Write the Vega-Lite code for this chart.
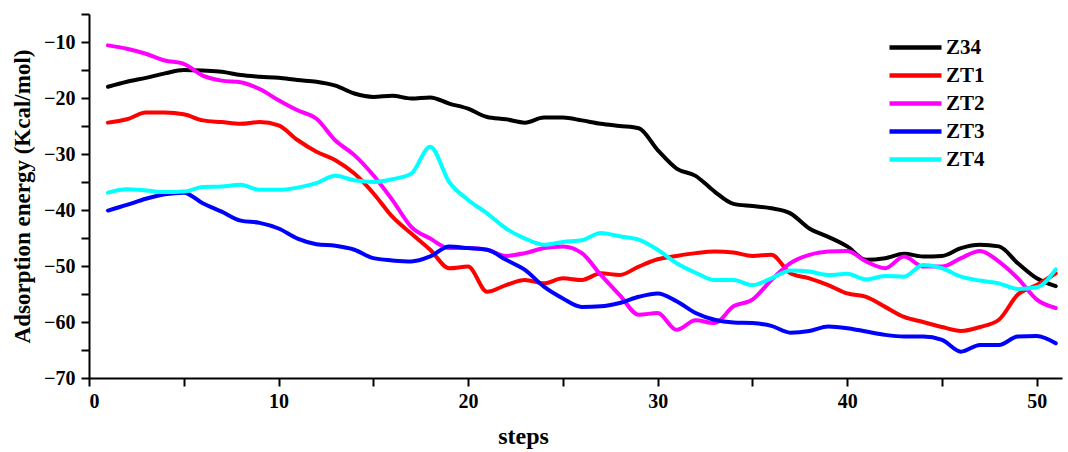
{
  "$schema": "https://vega.github.io/schema/vega-lite/v6.json",
  "width": 973,
  "height": 364,
  "autosize": "none",
  "padding": {"left": 89, "top": 14, "right": 6, "bottom": 74},
  "background": "white",
  "config": {
    "view": {"stroke": null},
    "font": "Liberation Serif",
    "axis": {"grid": false, "domainColor": "black", "domainWidth": 2, "tickColor": "black", "tickWidth": 2, "tickSize": 8, "labelFont": "Liberation Serif", "labelFontWeight": "bold", "labelFontSize": 20, "labelColor": "black", "titleFont": "Liberation Serif", "titleFontWeight": "bold", "titleColor": "black"}
  },
  "data": {
    "values": [
      {"step": 1, "Z34": -18.0, "ZT1": -24.4, "ZT2": -10.6, "ZT3": -40.1, "ZT4": -36.9},
      {"step": 2, "Z34": -17.1, "ZT1": -23.8, "ZT2": -11.2, "ZT3": -39.1, "ZT4": -36.3},
      {"step": 3, "Z34": -16.4, "ZT1": -22.6, "ZT2": -12.1, "ZT3": -38.0, "ZT4": -36.5},
      {"step": 4, "Z34": -15.6, "ZT1": -22.6, "ZT2": -13.3, "ZT3": -37.2, "ZT4": -36.8},
      {"step": 5, "Z34": -15.0, "ZT1": -22.9, "ZT2": -13.9, "ZT3": -36.9, "ZT4": -36.7},
      {"step": 6, "Z34": -15.1, "ZT1": -24.0, "ZT2": -16.0, "ZT3": -38.8, "ZT4": -35.9},
      {"step": 7, "Z34": -15.3, "ZT1": -24.3, "ZT2": -16.9, "ZT3": -40.3, "ZT4": -35.8},
      {"step": 8, "Z34": -15.9, "ZT1": -24.6, "ZT2": -17.2, "ZT3": -41.9, "ZT4": -35.5},
      {"step": 9, "Z34": -16.2, "ZT1": -24.3, "ZT2": -18.4, "ZT3": -42.3, "ZT4": -36.4},
      {"step": 10, "Z34": -16.4, "ZT1": -24.9, "ZT2": -20.4, "ZT3": -43.3, "ZT4": -36.4},
      {"step": 11, "Z34": -16.8, "ZT1": -27.5, "ZT2": -22.2, "ZT3": -45.1, "ZT4": -36.0},
      {"step": 12, "Z34": -17.1, "ZT1": -29.6, "ZT2": -23.7, "ZT3": -46.1, "ZT4": -35.2},
      {"step": 13, "Z34": -17.8, "ZT1": -31.1, "ZT2": -27.6, "ZT3": -46.4, "ZT4": -33.9},
      {"step": 14, "Z34": -19.2, "ZT1": -33.5, "ZT2": -30.2, "ZT3": -47.1, "ZT4": -34.7},
      {"step": 15, "Z34": -19.8, "ZT1": -37.0, "ZT2": -33.8, "ZT3": -48.6, "ZT4": -35.0},
      {"step": 16, "Z34": -19.6, "ZT1": -41.2, "ZT2": -38.2, "ZT3": -49.0, "ZT4": -34.5},
      {"step": 17, "Z34": -20.1, "ZT1": -44.2, "ZT2": -43.0, "ZT3": -49.2, "ZT4": -33.5},
      {"step": 18, "Z34": -19.9, "ZT1": -47.1, "ZT2": -45.1, "ZT3": -48.3, "ZT4": -28.7},
      {"step": 19, "Z34": -21.0, "ZT1": -50.4, "ZT2": -46.8, "ZT3": -46.5, "ZT4": -35.0},
      {"step": 20, "Z34": -21.9, "ZT1": -50.1, "ZT2": -46.8, "ZT3": -46.8, "ZT4": -38.2},
      {"step": 21, "Z34": -23.4, "ZT1": -54.6, "ZT2": -47.1, "ZT3": -47.1, "ZT4": -40.6},
      {"step": 22, "Z34": -23.8, "ZT1": -53.4, "ZT2": -48.2, "ZT3": -48.9, "ZT4": -43.3},
      {"step": 23, "Z34": -24.4, "ZT1": -52.5, "ZT2": -47.7, "ZT3": -50.7, "ZT4": -45.1},
      {"step": 24, "Z34": -23.5, "ZT1": -53.1, "ZT2": -46.8, "ZT3": -53.7, "ZT4": -46.2},
      {"step": 25, "Z34": -23.5, "ZT1": -52.2, "ZT2": -46.5, "ZT3": -55.8, "ZT4": -45.7},
      {"step": 26, "Z34": -24.0, "ZT1": -52.5, "ZT2": -47.7, "ZT3": -57.3, "ZT4": -45.4},
      {"step": 27, "Z34": -24.6, "ZT1": -51.3, "ZT2": -51.6, "ZT3": -57.2, "ZT4": -44.1},
      {"step": 28, "Z34": -25.0, "ZT1": -51.6, "ZT2": -55.2, "ZT3": -56.6, "ZT4": -44.7},
      {"step": 29, "Z34": -25.4, "ZT1": -50.1, "ZT2": -58.7, "ZT3": -55.5, "ZT4": -45.3},
      {"step": 30, "Z34": -29.3, "ZT1": -48.8, "ZT2": -58.4, "ZT3": -54.9, "ZT4": -47.1},
      {"step": 31, "Z34": -32.6, "ZT1": -48.2, "ZT2": -61.4, "ZT3": -56.3, "ZT4": -49.5},
      {"step": 32, "Z34": -33.9, "ZT1": -47.7, "ZT2": -59.7, "ZT3": -58.4, "ZT4": -51.2},
      {"step": 33, "Z34": -36.7, "ZT1": -47.4, "ZT2": -60.2, "ZT3": -59.6, "ZT4": -52.5},
      {"step": 34, "Z34": -38.9, "ZT1": -47.6, "ZT2": -57.2, "ZT3": -60.1, "ZT4": -52.5},
      {"step": 35, "Z34": -39.3, "ZT1": -48.2, "ZT2": -56.0, "ZT3": -60.2, "ZT4": -53.4},
      {"step": 36, "Z34": -39.7, "ZT1": -48.0, "ZT2": -52.5, "ZT3": -60.7, "ZT4": -52.2},
      {"step": 37, "Z34": -40.6, "ZT1": -51.3, "ZT2": -49.5, "ZT3": -61.9, "ZT4": -50.8},
      {"step": 38, "Z34": -43.3, "ZT1": -52.2, "ZT2": -48.0, "ZT3": -61.6, "ZT4": -51.0},
      {"step": 39, "Z34": -44.8, "ZT1": -53.4, "ZT2": -47.4, "ZT3": -60.8, "ZT4": -51.6},
      {"step": 40, "Z34": -46.5, "ZT1": -54.9, "ZT2": -47.3, "ZT3": -61.1, "ZT4": -51.4},
      {"step": 41, "Z34": -48.9, "ZT1": -55.5, "ZT2": -49.2, "ZT3": -61.7, "ZT4": -52.4},
      {"step": 42, "Z34": -48.6, "ZT1": -57.3, "ZT2": -50.4, "ZT3": -62.3, "ZT4": -51.8},
      {"step": 43, "Z34": -47.8, "ZT1": -59.1, "ZT2": -48.3, "ZT3": -62.6, "ZT4": -51.9},
      {"step": 44, "Z34": -48.3, "ZT1": -60.0, "ZT2": -50.1, "ZT3": -62.6, "ZT4": -49.8},
      {"step": 45, "Z34": -48.2, "ZT1": -60.9, "ZT2": -50.1, "ZT3": -63.2, "ZT4": -50.4},
      {"step": 46, "Z34": -46.8, "ZT1": -61.6, "ZT2": -48.6, "ZT3": -65.3, "ZT4": -51.9},
      {"step": 47, "Z34": -46.2, "ZT1": -60.9, "ZT2": -47.3, "ZT3": -64.1, "ZT4": -52.6},
      {"step": 48, "Z34": -46.5, "ZT1": -59.6, "ZT2": -49.2, "ZT3": -64.1, "ZT4": -53.1},
      {"step": 49, "Z34": -49.5, "ZT1": -55.1, "ZT2": -52.2, "ZT3": -62.6, "ZT4": -54.1},
      {"step": 50, "Z34": -52.2, "ZT1": -53.4, "ZT2": -56.0, "ZT3": -62.5, "ZT4": -53.8},
      {"step": 51, "Z34": -53.6, "ZT1": -51.3, "ZT2": -57.5, "ZT3": -63.8, "ZT4": -50.6}
    ]
  },
  "transform": [{"fold": ["Z34", "ZT1", "ZT2", "ZT3", "ZT4"], "as": ["series", "energy"]}],
  "mark": {"type": "line", "interpolate": "monotone", "strokeWidth": 4, "strokeCap": "round", "strokeJoin": "round"},
  "encoding": {
    "x": {
      "field": "step", "type": "quantitative",
      "scale": {"domain": [0, 51.33], "nice": false, "zero": false},
      "axis": {"values": [0, 5, 10, 15, 20, 25, 30, 35, 40, 45, 50], "labelExpr": "datum.value % 10 === 0 ? datum.label : ''", "labelPadding": 5, "title": "steps", "titleFontSize": 24, "titleX": 434, "titleY": 65, "titleBaseline": "alphabetic", "titleAnchor": null, "titleAlign": "center"}
    },
    "y": {
      "field": "energy", "type": "quantitative",
      "scale": {"domain": [-70, -5], "nice": false, "zero": false},
      "axis": {"values": [-70, -65, -60, -55, -50, -45, -40, -35, -30, -25, -20, -15, -10, -5], "labelExpr": "datum.value % 10 === 0 ? datum.label : ''", "labelPadding": 6, "title": "Adsorption energy (Kcal/mol)", "titleFontSize": 23, "titleX": -55, "titleY": 182, "titleAngle": -90, "titleBaseline": "bottom", "titleAlign": "center"}
    },
    "color": {
      "field": "series", "type": "nominal",
      "scale": {"domain": ["Z34", "ZT1", "ZT2", "ZT3", "ZT4"], "range": ["#000000", "#ff0000", "#ff00ff", "#0000ff", "#00ffff"]},
      "legend": {"title": null, "orient": "none", "legendX": 816, "legendY": 23, "symbolType": "M-4,0H4", "symbolSize": 169, "symbolStrokeWidth": 4.5, "symbolStrokeCap": "round", "labelFont": "Liberation Serif", "labelFontWeight": "bold", "labelFontSize": 21, "labelColor": "black", "labelOffset": 20, "rowPadding": 6, "padding": 0}
    }
  }
}
